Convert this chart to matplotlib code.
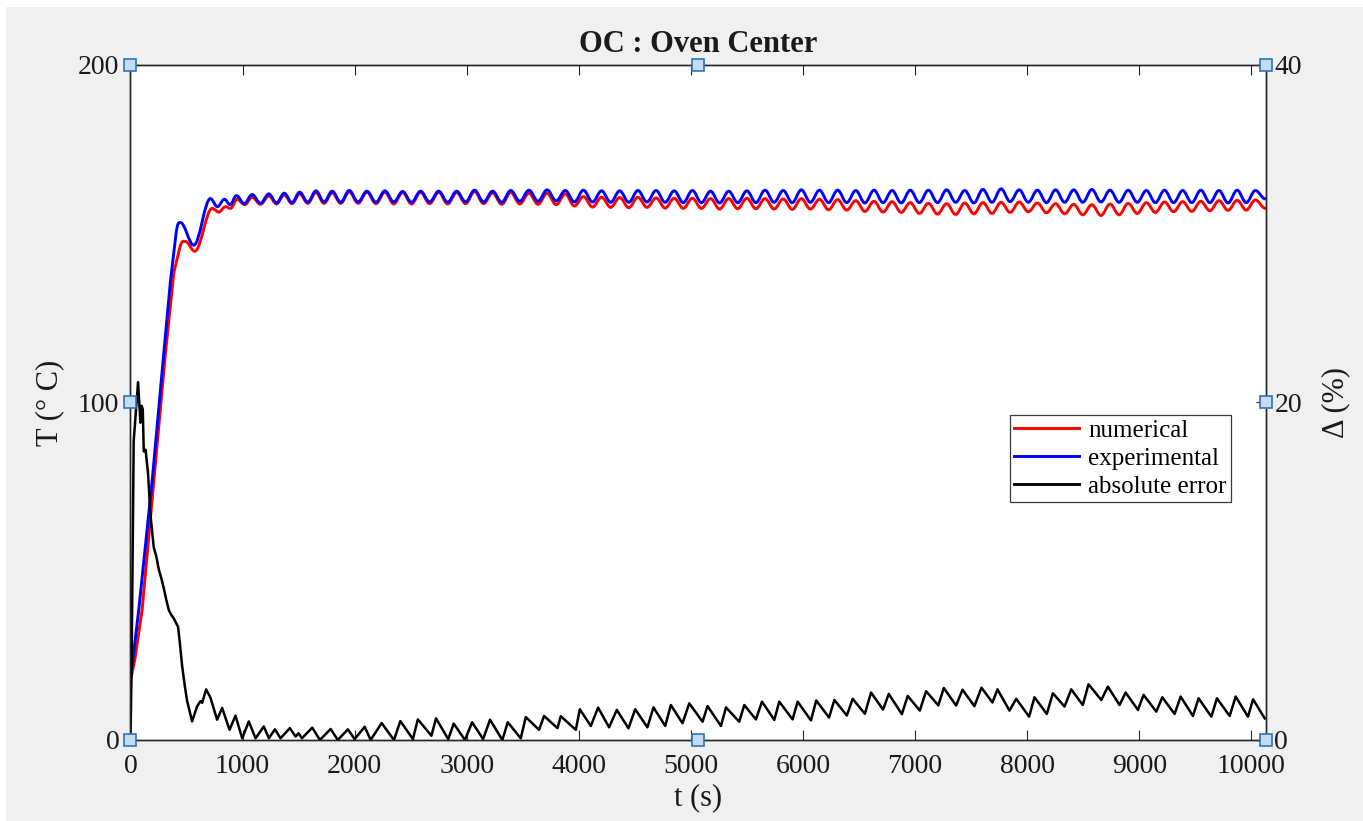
"""
OC : Oven Center -- numerical vs experimental temperature with the
absolute error on a second y axis (MATLAB-style figure, axes selected).
"""
import matplotlib
matplotlib.use("Agg")
import matplotlib.pyplot as plt
from matplotlib.lines import Line2D
from matplotlib.path import Path
from matplotlib.patches import PathPatch, Rectangle

plt.rcParams["font.family"] = ["Liberation Serif", "DejaVu Serif"]

TITLE = "OC : Oven Center"
X_LABEL = "t (s)"
Y_LABEL = "T (° C)"
Y2_LABEL = "Δ (%)"
LABELS = ["numerical", "experimental", "absolute error"]

X_TICKS = [0, 1000, 2000, 3000, 4000, 5000, 6000, 7000, 8000, 9000, 10000]
Y_TICKS = [0, 100, 200]
Y2_TICKS = [0, 20, 40]

# ── heating ramp (straight segments) ─────────────────────────────────────────
t_exp_rise = [0, 74, 193, 282, 357, 405]
T_exp_rise = [17.9, 38.5, 76.5, 109.0, 136.0, 149.5]
t_num_rise = [0, 40, 104, 208, 312, 387, 440]
T_num_rise = [17.5, 24.0, 38.5, 76.5, 114.5, 138.5, 145.8]

# ── first overshoot, local extrema ───────────────────────────────────────────
t_exp_early = [446, 565, 714, 776, 838, 890, 945, 1015]
T_exp_early = [153.3, 146.6, 160.4, 158.0, 160.2, 158.6, 161.3, 158.9]
t_num_early = [491, 574, 729, 788, 848, 893, 952, 1020]
T_num_early = [147.7, 144.8, 157.5, 156.4, 158.0, 157.5, 160.2, 158.6]

# ── thermostat cycling: alternating peak / trough times (shared) ─────────────
t_cycle = [
    1086, 1160, 1235, 1303, 1372, 1441, 1510, 1582, 1655, 1727,
    1800, 1876, 1952, 2031, 2110, 2190, 2270, 2349, 2428, 2508,
    2588, 2669, 2750, 2830, 2910, 2990, 3070, 3150, 3231, 3312,
    3393, 3474, 3555, 3636, 3717, 3798, 3879, 3960, 4041, 4122,
    4203, 4284, 4365, 4446, 4527, 4608, 4689, 4770, 4851, 4932,
    5013, 5094, 5175, 5256, 5337, 5418, 5499, 5580, 5661, 5742,
    5823, 5904, 5985, 6066, 6147, 6228, 6309, 6390, 6471, 6552,
    6633, 6714, 6795, 6876, 6957, 7038, 7119, 7200, 7281, 7362,
    7443, 7524, 7605, 7686, 7767, 7848, 7929, 8010, 8091, 8172,
    8253, 8334, 8415, 8496, 8577, 8658, 8739, 8820, 8901, 8982,
    9063, 9144, 9225, 9306, 9387, 9468, 9549, 9630, 9711, 9792,
    9873, 9954, 10035, 10125,
]
T_exp_cycle = [
    161.6, 159.0, 161.8, 159.1, 162.0, 159.2, 162.3, 159.3, 162.7, 159.4,
    162.6, 159.3, 162.8, 159.4, 162.6, 159.3, 162.7, 159.4, 162.5, 159.3,
    162.6, 159.4, 162.6, 159.3, 162.6, 159.4, 162.9, 159.4, 162.6, 159.3,
    162.8, 159.6, 162.9, 159.6, 163.0, 159.7, 162.8, 159.4, 162.9, 159.4,
    162.7, 159.3, 162.7, 159.3, 162.8, 159.4, 162.8, 159.3, 162.7, 159.2,
    162.8, 159.2, 162.6, 159.1, 162.6, 159.2, 162.7, 159.2, 162.9, 159.3,
    162.8, 159.2, 163.0, 159.3, 162.9, 159.2, 162.9, 159.2, 162.8, 159.1,
    162.9, 159.2, 162.8, 159.1, 162.9, 159.2, 162.9, 159.2, 163.0, 159.3,
    162.8, 159.1, 163.1, 159.3, 163.3, 159.5, 163.0, 159.3, 162.9, 159.2,
    163.0, 159.3, 163.0, 159.3, 163.1, 159.4, 162.9, 159.3, 162.9, 159.3,
    162.8, 159.2, 162.9, 159.2, 162.8, 159.2, 162.9, 159.2, 162.8, 159.1,
    162.9, 159.2, 162.8, 160.3,
]
T_num_cycle = [
    160.8, 158.7, 161.2, 158.8, 161.5, 158.9, 161.8, 159.0, 162.2, 159.0,
    162.1, 159.0, 162.4, 159.0, 162.3, 158.9, 162.3, 158.8, 162.2, 158.8,
    162.3, 158.9, 162.3, 158.8, 162.2, 158.9, 162.5, 158.9, 162.1, 158.7,
    162.2, 158.8, 162.0, 158.7, 162.0, 158.6, 161.8, 158.2, 161.0, 157.9,
    160.8, 157.8, 160.7, 157.7, 160.8, 157.8, 160.6, 157.6, 160.5, 157.5,
    160.5, 157.5, 160.4, 157.3, 160.4, 157.4, 160.5, 157.4, 160.4, 157.3,
    160.3, 157.2, 160.4, 157.3, 160.2, 157.1, 160.1, 157.0, 159.8, 156.6,
    159.6, 156.4, 159.5, 156.3, 159.2, 156.0, 159.0, 155.8, 158.9, 155.7,
    159.1, 155.9, 159.2, 156.0, 159.3, 156.3, 159.4, 156.5, 159.1, 156.2,
    158.9, 155.9, 158.7, 155.6, 158.6, 155.4, 158.8, 155.6, 159.0, 156.0,
    159.2, 156.3, 159.4, 156.5, 159.5, 156.6, 159.6, 156.8, 159.8, 156.9,
    159.9, 157.0, 160.0, 157.5,
]

# ── absolute error (%) ───────────────────────────────────────────────────────
t_err = [
    0, 10, 29, 68, 89, 100, 110, 119, 135, 157, 178, 208, 230, 253, 275,
    297, 320, 342, 365, 387, 425, 440, 461, 485, 506, 550, 595, 625, 640,
    675, 714, 773, 818, 884, 937, 997, 1056, 1116, 1190, 1235, 1289, 1339,
    1422, 1473, 1500, 1530, 1622, 1690, 1786, 1850, 1940, 2000, 2090, 2143,
    2241, 2351, 2408, 2520, 2564, 2685, 2726, 2835, 2884, 2984, 3048, 3146,
    3208, 3318, 3366, 3482, 3527, 3645, 3690, 3810, 3839, 3973, 4009, 4107,
    4172, 4270, 4339, 4443, 4503, 4612, 4666, 4771, 4821, 4925, 4985, 5104,
    5148, 5268, 5313, 5431, 5476, 5580, 5634, 5744, 5788, 5907, 5952, 6071,
    6118, 6232, 6280, 6391, 6443, 6552, 6607, 6714, 6765, 6882, 6934, 7042,
    7098, 7207, 7256, 7366, 7423, 7529, 7592, 7690, 7735, 7842, 7902, 8017,
    8065, 8175, 8229, 8333, 8393, 8496, 8547, 8661, 8720, 8824, 8878, 8988,
    9038, 9152, 9205, 9315, 9369, 9479, 9529, 9643, 9693, 9806, 9860, 9970,
    10015, 10119,
]
err = [
    0.0, 4.0, 17.7, 21.2, 18.8, 19.8, 19.6, 17.1, 17.2, 15.8, 13.4, 11.4,
    10.9, 10.1, 9.6, 9.0, 8.3, 7.7, 7.4, 7.2, 6.7, 5.8, 4.4, 3.2, 2.3, 1.1,
    2.0, 2.3, 2.2, 3.0, 2.5, 1.2, 1.9, 0.6, 1.44, 0.1, 1.1, 0.1, 0.8, 0.1,
    0.63, 0.1, 0.7, 0.2, 0.4, 0.1, 0.73, 0.0, 0.65, 0.0, 0.63, 0.05, 0.78,
    0.0, 1.0, 0.0, 1.12, 0.05, 1.22, 0.25, 1.28, 0.05, 0.97, 0.0, 1.05,
    0.05, 1.2, 0.0, 1.05, 0.1, 1.36, 0.6, 1.42, 0.7, 1.41, 0.6, 1.82, 0.83,
    1.92, 0.75, 1.78, 0.69, 1.82, 0.75, 1.93, 0.83, 2.07, 0.99, 2.17, 1.08,
    2.01, 0.83, 1.93, 1.08, 2.07, 1.22, 2.27, 1.19, 2.27, 1.22, 2.27, 1.16,
    2.34, 1.33, 2.37, 1.45, 2.44, 1.55, 2.81, 1.8, 2.73, 1.53, 2.61, 1.74,
    2.89, 2.05, 3.08, 2.04, 2.98, 2.0, 3.1, 2.22, 3.0, 1.74, 2.44, 1.38,
    2.53, 1.54, 2.77, 1.98, 3.0, 2.07, 3.3, 2.37, 3.16, 2.07, 2.81, 1.78,
    2.67, 1.68, 2.53, 1.54, 2.57, 1.42, 2.47, 1.38, 2.47, 1.42, 2.57, 1.38,
    2.41, 1.28,
]

RED = "#ff0000"
BLUE = "#0000ff"
AXIS_COLOR = "#262626"
TEXT_COLOR = "#1a1a1a"
LW = 2.1


def wave_path(t_lin, v_lin, t_ext, v_ext):
    """Ramp points joined straight, extrema joined with flat-topped S-curves."""
    verts = list(zip(t_lin, v_lin))
    codes = [Path.MOVETO] + [Path.LINETO] * (len(verts) - 1)
    slope = (v_lin[-1] - v_lin[-2]) / (t_lin[-1] - t_lin[-2])
    t_prev, v_prev = verts[-1]
    for i, (t, v) in enumerate(zip(t_ext, v_ext)):
        d = 0.36 * (t - t_prev)
        c1 = (t_prev + d, v_prev + (slope * d if i == 0 else 0.0))
        verts += [c1, (t - d, v), (t, v)]
        codes += [Path.CURVE4] * 3
        t_prev, v_prev = t, v
    return Path(verts, codes)


fig = plt.figure(figsize=(13.63, 8.21), dpi=100, facecolor="white")
fig.patches.append(Rectangle((6 / 1363, 0), 1, 1 - 7 / 821,
                             transform=fig.transFigure, facecolor="#f0f0f0",
                             edgecolor="none", zorder=-10))

ax = fig.add_axes([0.0957, 0.0987, 0.8331, 0.8222])
ax2 = ax.twinx()

for t_lin, v_lin, t_ext, v_ext, col in [
    (t_num_rise, T_num_rise, t_num_early + t_cycle, T_num_early + T_num_cycle, RED),
    (t_exp_rise, T_exp_rise, t_exp_early + t_cycle, T_exp_early + T_exp_cycle, BLUE),
]:
    ax.add_patch(PathPatch(wave_path(t_lin, v_lin, t_ext, v_ext),
                           facecolor="none", edgecolor=col, lw=LW,
                           capstyle="round", joinstyle="round"))

ax2.plot(t_err, err, color="black", lw=1.8, solid_joinstyle="round")

ax.set_xlim(0, 10130)
ax.set_ylim(0, 200)
ax2.set_ylim(0, 40)
ax.set_xticks(X_TICKS)
ax.set_yticks(Y_TICKS)
ax2.set_yticks(Y2_TICKS)

ax.tick_params(axis="x", direction="in", length=7, width=0.8, top=True,
               labelsize=20, pad=10, colors=AXIS_COLOR, labelcolor=TEXT_COLOR)
ax.tick_params(axis="y", direction="in", length=7, width=0.8, right=False,
               labelsize=20, pad=8, colors=AXIS_COLOR, labelcolor=TEXT_COLOR)
ax2.tick_params(axis="y", direction="in", length=7, width=0.8,
                labelsize=20, pad=6, colors=AXIS_COLOR, labelcolor=TEXT_COLOR)
for a in (ax, ax2):
    for sp in a.spines.values():
        sp.set_color(AXIS_COLOR)
        sp.set_linewidth(1.0)

ax.set_title(TITLE, fontsize=22, fontweight="bold", pad=9, color=TEXT_COLOR)
ax.set_xlabel(X_LABEL, fontsize=22, labelpad=3, color=TEXT_COLOR)
ax.set_ylabel(Y_LABEL, fontsize=22, labelpad=10, color=TEXT_COLOR)
ax2.set_ylabel(Y2_LABEL, fontsize=22, labelpad=14, color=TEXT_COLOR)

handles = [Line2D([], [], color=c, lw=LW) for c in (RED, BLUE, "black")]
leg = ax2.legend(handles, LABELS, loc="upper left",
                 bbox_to_anchor=(0.7745, 0.4815), borderaxespad=0,
                 fontsize=18, fancybox=False, framealpha=1,
                 edgecolor="#3a3a3a", handlelength=2.6, handletextpad=0.35,
                 labelspacing=0.22, borderpad=0.18)
leg.get_frame().set_linewidth(0.9)
leg.set_zorder(20)

# MATLAB selection handles around the selected axes
for xa, ya in [(0, 0), (0.5, 0), (1, 0), (0, 0.5), (1, 0.5),
               (0, 1), (0.5, 1), (1, 1)]:
    ax2.plot(xa, ya, marker="s", ms=8.3, mfc="#c2ddf2", mec="#2f74b5",
             mew=1.2, transform=ax2.transAxes, clip_on=False, zorder=30)

fig.savefig("out.png", dpi=100, facecolor=fig.get_facecolor())
